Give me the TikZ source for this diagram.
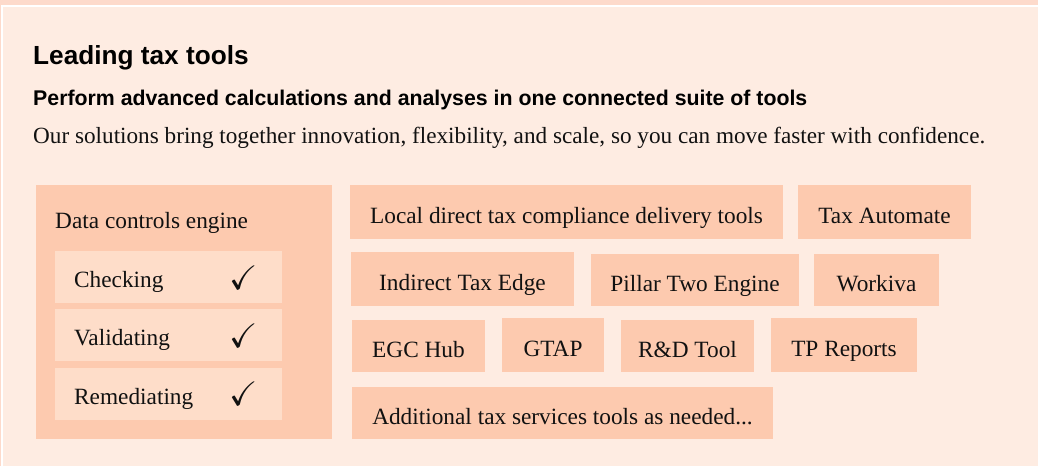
\documentclass[tikz,border=0pt]{standalone}
\usepackage{fontspec}
\usepackage{amssymb}
\setmainfont{Liberation Serif}
\newfontfamily\headfont{Liberation Sans}
\definecolor{bandc}{HTML}{FDDACB}
\definecolor{bgc}{HTML}{FEECE2}
\definecolor{boxc}{HTML}{FDCAAF}
\definecolor{innerc}{HTML}{FEDDC9}
\definecolor{txtc}{HTML}{111111}
\tikzset{
  tbox/.style={fill=boxc, inner sep=0pt, text=txtc, font=\fontsize{23.3}{27}\selectfont, text height=22pt, text depth=0pt},
  ibox/.style={fill=innerc, inner sep=0pt, minimum width=227pt, minimum height=52pt},
  itext/.style={anchor=base west, inner sep=0pt, text=txtc, font=\fontsize{23.3}{27}\selectfont},
  tick/.style={inner sep=0pt, text=txtc, font=\fontsize{34}{34}\selectfont},
}
\begin{document}
\begin{tikzpicture}[x=1pt,y=-1pt]
\useasboundingbox (0,0) rectangle (1038,466);
\fill[bandc] (0,0) rectangle (1038,466);
\fill[white] (1,5) rectangle (1038,466);
\fill[bgc] (2.5,6.5) rectangle (1038,466);
% headings
\node[anchor=base west, inner sep=0pt, text=black, font=\headfont\bfseries\fontsize{26.2}{30}\selectfont] (title) at (33,64) {Leading tax tools};
\node[anchor=base west, inner sep=0pt, text=black, font=\headfont\bfseries\fontsize{21.3}{25}\selectfont] (sub) at (33,105) {Perform advanced calculations and analyses in one connected suite of tools};
\node[anchor=base west, inner sep=0pt, text=txtc, font=\fontsize{23.2}{27}\selectfont] (body) at (33,143) {Our solutions bring together innovation, flexibility, and scale, so you can move faster with confidence.};
% data controls engine
\node[fill=boxc, inner sep=0pt, minimum width=296pt, minimum height=254pt] (dce) at (184,312) {};
\node[itext] (dcel) at (55,228) {Data controls engine};
\node[ibox] (chk) at (168.5,277) {};
\node[ibox] (val) at (168.5,335) {};
\node[ibox] (rem) at (168.5,394) {};
\node[itext] (chkl) at (74,287) {Checking};
\node[itext] (vall) at (74,345) {Validating};
\node[itext] (reml) at (74,404) {Remediating};
\node[tick] (chkt) at (244,278) {\(\checkmark\)};
\node[tick] (valt) at (244,336) {\(\checkmark\)};
\node[tick] (remt) at (244,394) {\(\checkmark\)};
% tool boxes
\node[tbox, minimum width=433pt, minimum height=54pt] (ldt) at (566.5,212) {Local direct tax compliance delivery tools};
\node[tbox, minimum width=173pt, minimum height=54pt] (tax) at (884.5,212) {Tax Automate};
\node[tbox, minimum width=223pt, minimum height=54pt] (ite) at (462.5,279) {Indirect Tax Edge};
\node[tbox, minimum width=208pt, minimum height=52pt] (pil) at (695,280) {Pillar Two Engine};
\node[tbox, minimum width=125pt, minimum height=52pt] (wor) at (876.5,280) {Workiva};
\node[tbox, minimum width=133pt, minimum height=52pt] (egc) at (418.5,346) {EGC Hub};
\node[tbox, minimum width=102pt, minimum height=54pt] (gta) at (553,345) {GTAP};
\node[tbox, minimum width=133pt, minimum height=52pt] (rnd) at (687.5,346) {R\&D Tool};
\node[tbox, minimum width=146pt, minimum height=54pt] (tpr) at (844,345) {TP Reports};
\node[tbox, minimum width=421pt, minimum height=52pt] (add) at (562.5,413) {Additional tax services tools as needed...};
\end{tikzpicture}
\end{document}
